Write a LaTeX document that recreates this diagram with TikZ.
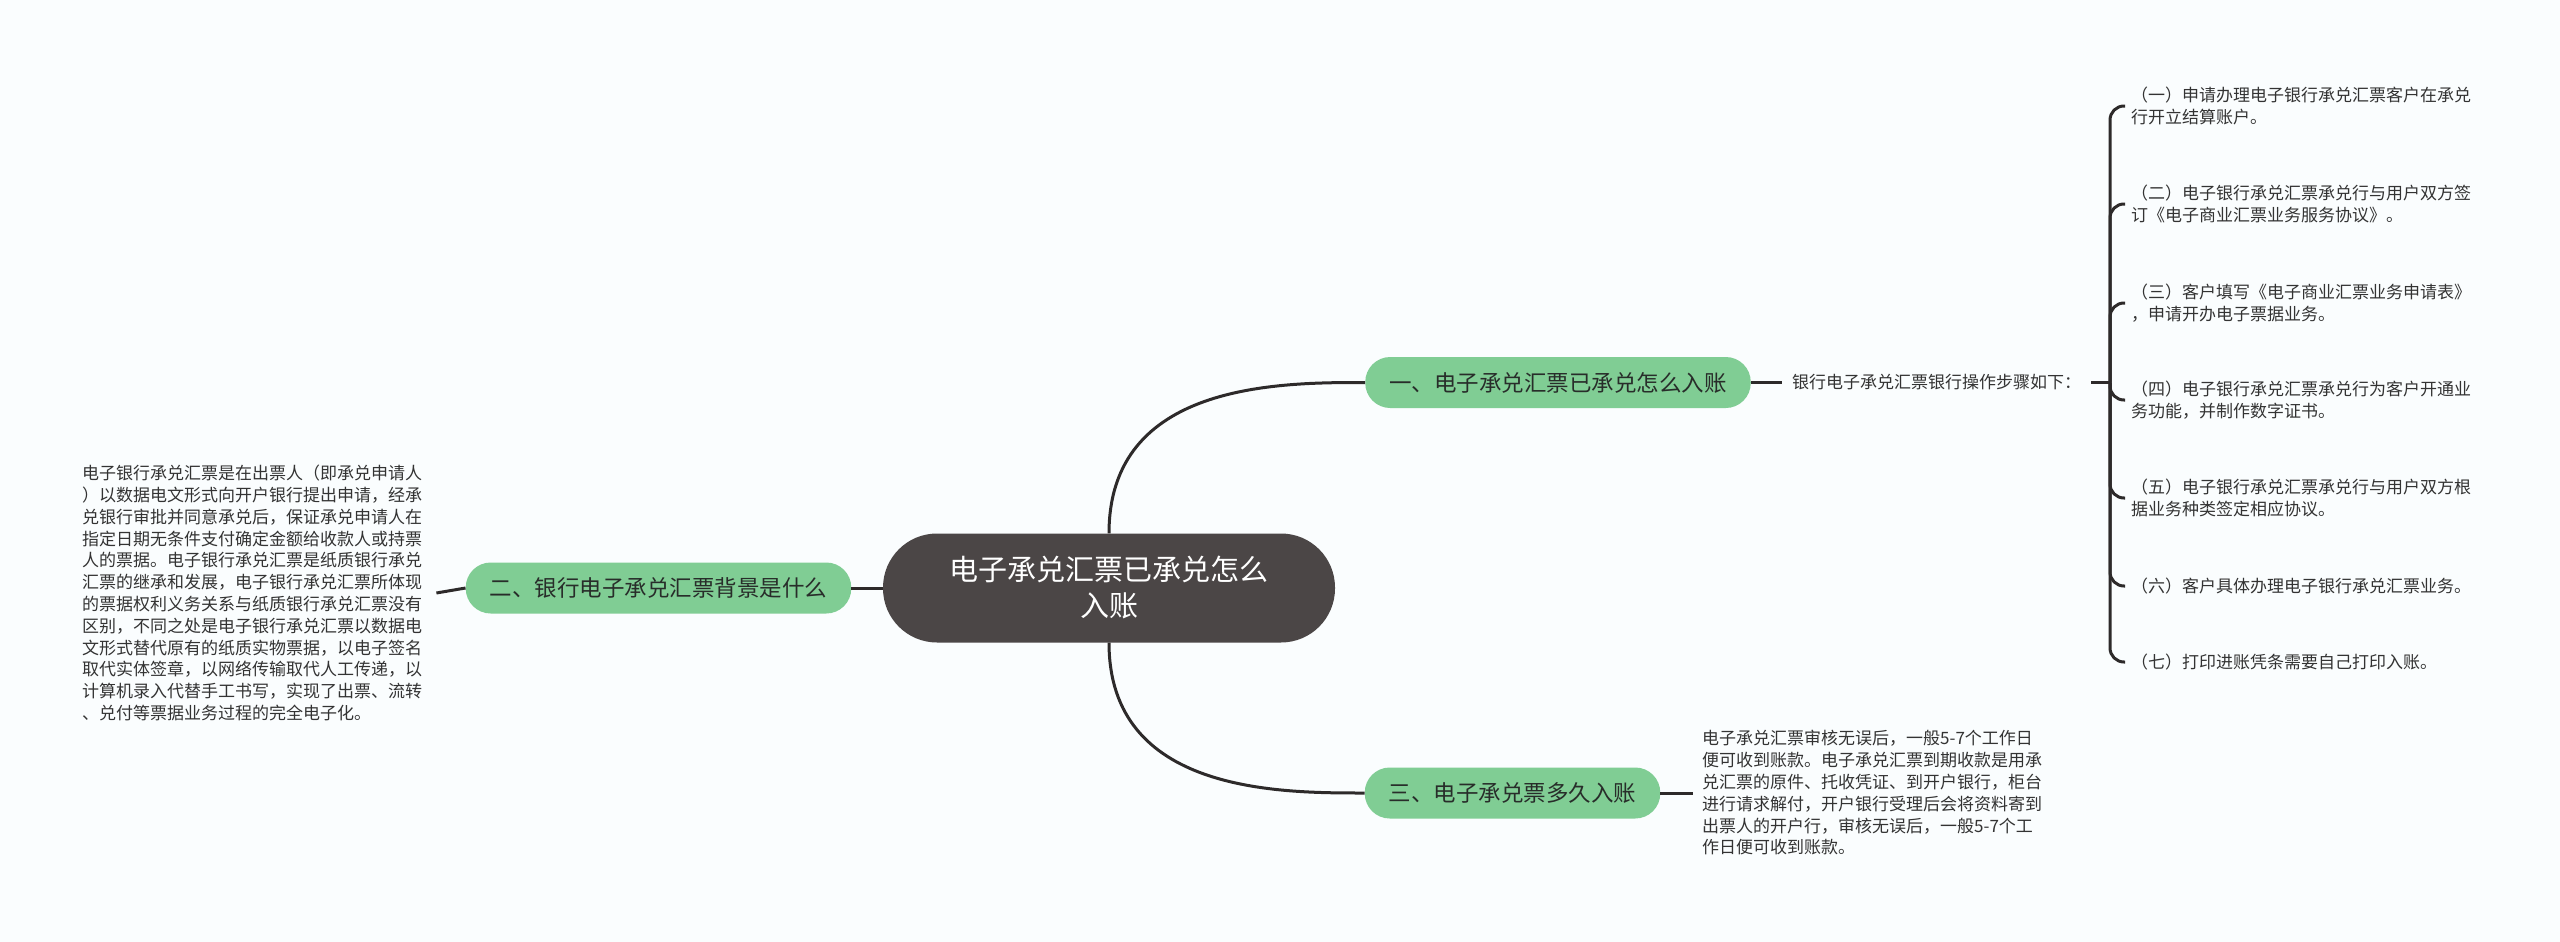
\documentclass[tikz,border=0pt]{standalone}
\usepackage{fontspec}
\setmainfont{Noto Sans CJK SC}
\definecolor{bgc}{RGB}{250,253,254}
\definecolor{rootc}{RGB}{75,70,70}
\definecolor{greenc}{RGB}{128,205,148}
\definecolor{linec}{RGB}{45,42,42}
\definecolor{txtc}{RGB}{51,51,51}
\definecolor{brtxt}{RGB}{40,45,42}
\begin{document}
\begin{tikzpicture}[x=1pt,y=-1pt,
  conn/.style={draw=linec, line width=3pt},
  rootbox/.style={fill=rootc, rounded corners=54pt, minimum width=452pt, minimum height=109pt, text=white, font=\fontsize{29}{36}\selectfont, align=center, inner sep=0pt},
  branchbox/.style={fill=greenc, rounded corners=25pt, minimum height=51pt, inner xsep=24pt, inner ysep=0pt, text=brtxt, font=\fontsize{22.5}{27}\selectfont},
  leaf/.style={text=txtc, font=\fontsize{17}{21.8}\selectfont, align=left, inner sep=0pt, anchor=west}
]
\fill[bgc] (0,0) rectangle (2560,942);
\useasboundingbox (0,0) rectangle (2560,942);

% root and branches
\node[rootbox] (root) at (1109,588) {电子承兑汇票已承兑怎么\\入账};
\node[branchbox] (b1) at (1558,382.5) {一、电子承兑汇票已承兑怎么入账};
\node[branchbox] (b2) at (658.5,588) {二、银行电子承兑汇票背景是什么};
\node[branchbox] (b3) at (1512.5,793) {三、电子承兑票多久入账};

% branch 1 children
\node[leaf, inner xsep=10pt] (steps) at (1782,382.5) {银行电子承兑汇票银行操作步骤如下：};
\coordinate (junc) at (2110,382.5);
\node[leaf] (l1) at (2131,106) {（一）申请办理电子银行承兑汇票客户在承兑\\行开立结算账户。};
\node[leaf] (l2) at (2131,204) {（二）电子银行承兑汇票承兑行与用户双方签\\订《电子商业汇票业务服务协议》。};
\node[leaf] (l3) at (2131,303) {（三）客户填写《电子商业汇票业务申请表》\\，申请开办电子票据业务。};
\node[leaf] (l4) at (2131,400) {（四）电子银行承兑汇票承兑行为客户开通业\\务功能，并制作数字证书。};
\node[leaf] (l5) at (2131,498) {（五）电子银行承兑汇票承兑行与用户双方根\\据业务种类签定相应协议。};
\node[leaf] (l6) at (2131,586) {（六）客户具体办理电子银行承兑汇票业务。};
\node[leaf] (l7) at (2131,662) {（七）打印进账凭条需要自己打印入账。};

% branch 2 child
\node[leaf, inner xsep=14pt] (bg) at (68,593) {电子银行承兑汇票是在出票人（即承兑申请人\\）以数据电文形式向开户银行提出申请，经承\\兑银行审批并同意承兑后，保证承兑申请人在\\指定日期无条件支付确定金额给收款人或持票\\人的票据。电子银行承兑汇票是纸质银行承兑\\汇票的继承和发展，电子银行承兑汇票所体现\\的票据权利义务关系与纸质银行承兑汇票没有\\区别，不同之处是电子银行承兑汇票以数据电\\文形式替代原有的纸质实物票据，以电子签名\\取代实体签章，以网络传输取代人工传递，以\\计算机录入代替手工书写，实现了出票、流转\\、兑付等票据业务过程的完全电子化。};

% branch 3 child
\node[leaf, inner xsep=9pt] (t3) at (1693,793) {电子承兑汇票审核无误后，一般5-7个工作日\\便可收到账款。电子承兑汇票到期收款是用承\\兑汇票的原件、托收凭证、到开户银行，柜台\\进行请求解付，开户银行受理后会将资料寄到\\出票人的开户行，审核无误后，一般5-7个工\\作日便可收到账款。};

% connectors
\draw[conn] (root.north) .. controls (root.north |- b1.west) and ([xshift=-86pt]b1.west) .. (b1.west);
\draw[conn] (root.south) .. controls (root.south |- b3.west) and ([xshift=-86pt]b3.west) .. (b3.west);
\draw[conn] (root.west) -- (b2.east);
\draw[conn] (b2.west) -- (bg.east);
\draw[conn] (b3.east) -- (t3.west);
\draw[conn] (b1.east) -- (steps.west);
\draw[conn] (steps.east) -- (junc);
\foreach \l in {l1,l2,l3,l4,l5,l6,l7}{
  \draw[conn, rounded corners=14pt] (junc) |- ([xshift=-6pt]\l.west);
}
\end{tikzpicture}
\end{document}
